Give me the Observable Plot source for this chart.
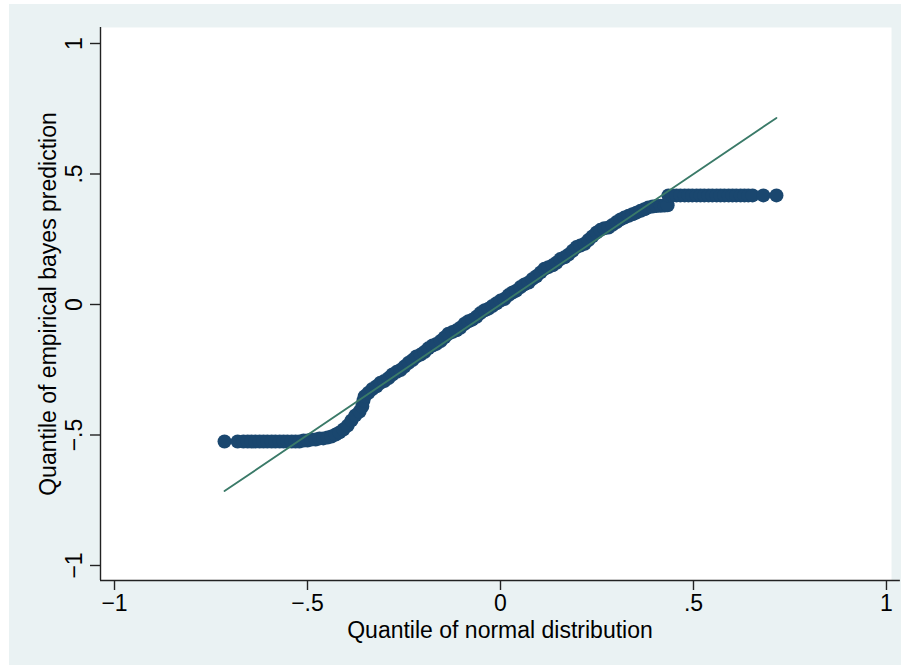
<!DOCTYPE html>
<html><head><meta charset="utf-8">
<script src="https://cdn.jsdelivr.net/npm/d3@7"></script>
<script src="https://cdn.jsdelivr.net/npm/@observablehq/plot@0.6"></script>
<style>
html,body{margin:0;padding:0;background:#fff;}
#wrap{position:relative;width:906px;height:667px;overflow:hidden;}
#bg{position:absolute;left:9px;top:4px;width:892px;height:661px;background:#eaf2f3;}
#chart{position:absolute;left:0;top:0;}
</style></head><body>
<div id="wrap"><div id="bg"></div><div id="chart"></div></div>
<script>
// Quantile of normal distribution (x) for each sorted prediction
const normalQuantile = [
  -0.715,-0.681,-0.666,-0.655,-0.645,-0.635,-0.624,-0.614,-0.604,-0.593,-0.583,-0.572,-0.562,-0.552,-0.541,-0.531,-0.521,
  -0.510,-0.500,-0.490,-0.479,-0.469,-0.459,-0.448,-0.438,-0.427,-0.417,-0.407,-0.396,-0.386,-0.376,-0.365,-0.358,-0.355,-0.352,
  -0.342,-0.332,-0.321,-0.311,-0.301,-0.290,-0.280,-0.269,-0.259,-0.249,-0.238,-0.228,-0.218,-0.207,-0.197,-0.187,-0.176,-0.166,-0.155,-0.145,
  -0.135,-0.124,-0.114,-0.104,-0.093,-0.083,-0.073,-0.062,-0.052,-0.041,-0.031,-0.021,-0.010,0.000,0.010,0.021,0.031,0.041,0.052,0.062,
  0.073,0.083,0.093,0.104,0.114,0.124,0.135,0.145,0.155,0.166,0.176,0.187,0.197,0.207,0.218,0.228,0.238,0.249,0.259,0.269,
  0.280,0.290,0.301,0.311,0.321,0.332,0.342,0.352,0.363,0.373,0.383,0.394,0.404,0.415,0.425,0.433,
  0.435,0.446,0.456,0.466,0.477,0.487,0.497,0.508,0.518,0.528,0.539,0.549,0.560,0.570,0.580,0.591,0.601,0.611,0.622,0.632,0.642,0.653,0.681,0.715
];
// Quantile of empirical bayes prediction (y)
const empiricalBayes = [
  -0.525,-0.525,-0.525,-0.525,-0.525,-0.525,-0.525,-0.525,-0.525,-0.525,-0.525,-0.525,-0.525,-0.525,-0.525,-0.525,-0.525,
  -0.521,-0.521,-0.517,-0.517,-0.513,-0.513,-0.510,-0.506,-0.498,-0.490,-0.479,-0.464,-0.444,-0.425,-0.410,-0.391,-0.368,-0.352,
  -0.338,-0.324,-0.313,-0.300,-0.293,-0.282,-0.268,-0.258,-0.251,-0.238,-0.223,-0.213,-0.199,-0.192,-0.182,-0.168,-0.157,-0.151,-0.140,-0.126,
  -0.112,-0.105,-0.099,-0.089,-0.074,-0.064,-0.058,-0.047,-0.033,-0.022,-0.016,-0.006,0.005,0.015,0.021,0.036,0.046,0.053,0.067,0.077,
  0.084,0.098,0.108,0.123,0.137,0.143,0.150,0.160,0.174,0.181,0.191,0.206,0.220,0.226,0.233,0.247,0.261,0.276,0.286,0.292,
  0.295,0.305,0.316,0.326,0.333,0.340,0.346,0.352,0.359,0.365,0.372,0.375,0.377,0.378,0.379,0.380,
  0.418,0.418,0.418,0.418,0.418,0.418,0.418,0.418,0.418,0.418,0.418,0.418,0.418,0.418,0.418,0.418,0.418,0.418,0.418,0.418,0.418,0.418,0.418,0.418
];
// Reference line (y = x) endpoints
const refLineX = [-0.715, 0.715];
const refLineY = [-0.715, 0.715];
// Axes
const xTicks = [-1, -0.5, 0, 0.5, 1];
const xTickLabels = ["\u22121", "\u2212.5", "0", ".5", "1"];
const yTicks = [-1, -0.5, 0, 0.5, 1];
const yTickLabels = ["\u22121", "\u2212.5", "0", ".5", "1"];
const xTitle = "Quantile of normal distribution";
const yTitle = "Quantile of empirical bayes prediction";
const xDomain = [-1.0363, 1.0130];
const yDomain = [-1.0575, 1.0613];

const points = normalQuantile.map((x, i) => ({x, y: empiricalBayes[i]}));
const refLine = refLineX.map((x, i) => ({x, y: refLineY[i]}));
const fmtX = d => xTickLabels[xTicks.indexOf(d)];
const fmtY = d => yTickLabels[yTicks.indexOf(d)];
const font = "'Liberation Sans', Arial, Helvetica, sans-serif";

const chart = Plot.plot({
  width: 906, height: 667,
  marginLeft: 100, marginRight: 15, marginTop: 27, marginBottom: 87,
  style: {background: "transparent", fontFamily: font, fontSize: "23px", color: "#000", overflow: "visible"},
  x: {domain: xDomain},
  y: {domain: yDomain},
  marks: [
    Plot.frame({fill: "white", stroke: null}),
    Plot.dot(points, {x: "x", y: "y", r: 7, fill: "#1a476f", stroke: null}),
    Plot.line(refLine, {x: "x", y: "y", stroke: "#3a7a68", strokeWidth: 1.8}),
    Plot.ruleX([xDomain[0]], {y1: yDomain[0], y2: yDomain[1], stroke: "#222", strokeWidth: 1.4}),
    Plot.ruleY([yDomain[0]], {x1: xDomain[0], x2: 1.036, stroke: "#222", strokeWidth: 1.4}),
    Plot.axisX({ticks: xTicks, tickFormat: fmtX, tickSize: 10, tickPadding: 4, label: null, fontSize: 23, stroke: "#222", strokeWidth: 1.4}),
    Plot.axisY({ticks: yTicks, tickFormat: fmtY, tickSize: 10, tickPadding: 9, tickRotate: -90, textAnchor: "middle", lineAnchor: "bottom", label: null, fontSize: 23, stroke: "#222", strokeWidth: 1.4}),
    Plot.text([xTitle], {frameAnchor: "bottom", dy: 57, dx: 4, textAnchor: "middle", lineAnchor: "bottom", fontSize: 23, fill: "#000"}),
    Plot.text([yTitle], {frameAnchor: "left", dx: -45, rotate: -90, textAnchor: "middle", lineAnchor: "bottom", fontSize: 23, fill: "#000"})
  ]
});
document.getElementById("chart").appendChild(chart);
</script>
</body></html>
